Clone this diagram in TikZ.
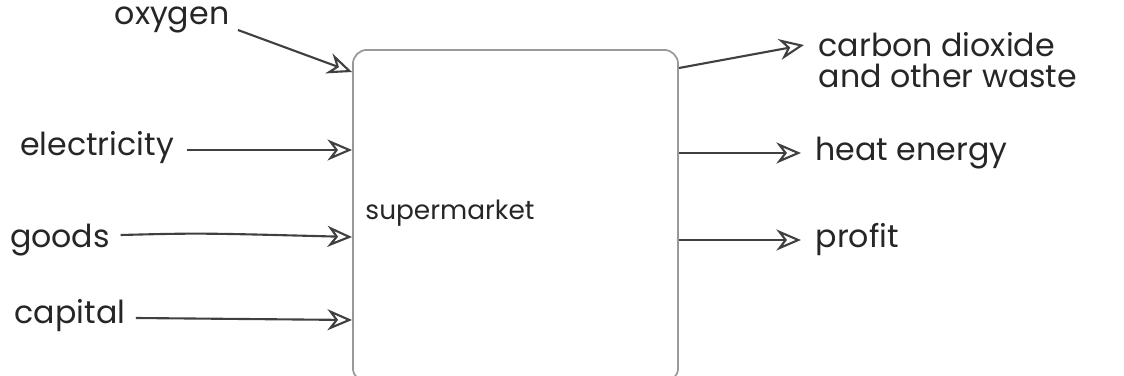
\documentclass[tikz,border=0pt]{standalone}
\usepackage{fontspec}
\setmainfont{Poppins}
\usetikzlibrary{arrows.meta}
\begin{document}
\begin{tikzpicture}[x=0.01cm, y=-0.01cm, >={Stealth[open,length=7pt,width=6pt]},
  every node/.style={font=\fontsize{9}{8.6}\selectfont, text=black!85, inner sep=0pt},
  flow/.style={->, draw=black!75, line width=0.6pt},
  store/.style={draw=black!40, line width=0.5pt, rounded corners=4pt}]
	% 1. 画布与商店主体
	\useasboundingbox (0,0) rectangle (1124,376);
	\node[store, minimum width=3.25cm, minimum height=3.32cm] (box) at (515.5,216) {};
	\node[font=\fontsize{7.5}{8}\selectfont] (shop) at (450,213) {supermarket};
	
	% 2. 输入标签
	\node (oxygen) at (172,20) {oxygen};
	\node (elec) at (97,148) {electricity};
	\node (goods) at (60,240) {goods};
	\node (capital) at (70,316) {capital};
	
	% 3. 输出标签
	\node[anchor=west, align=left] (waste) at (818,60) {carbon dioxide\\and other waste};
	\node[anchor=west] (heat) at (815,153) {heat energy};
	\node[anchor=west] (profit) at (815,240) {profit};
	
	% 4. 输入箭头 (终点落在方框左边)
	\draw[flow] (oxygen.east) ++(8,10) -- (box.west |- 0,72);
	\draw[flow] (elec.east) ++(12,2) -- (box.west |- 0,150);
	\draw[flow] (goods.east) ++(10,-5) .. controls (200,233) .. (box.west |- 0,237);
	\draw[flow] (capital.east) ++(10,2) -- (box.west |- 0,320);
	
	% 5. 输出箭头 (起点在方框右边)
	\draw[flow] (box.east |- 0,68) -- ([xshift=-4pt]waste.west |- 0,45);
	\draw[flow] (box.east |- 0,153) -- ([xshift=-4pt]heat.west);
	\draw[flow] (box.east |- 0,240) -- ([xshift=-4pt]profit.west);
\end{tikzpicture}
\end{document}
